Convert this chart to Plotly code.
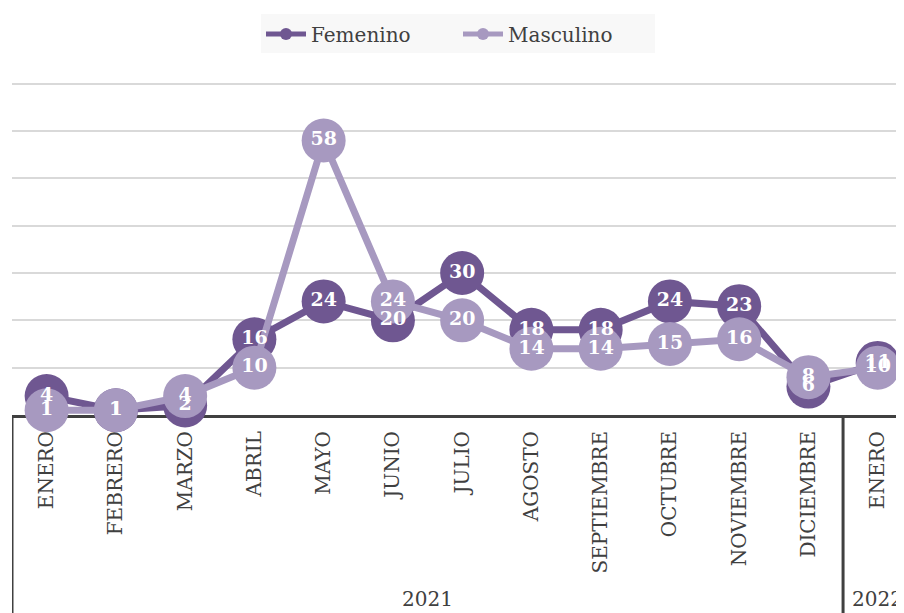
import plotly.graph_objects as go

months = ["ENERO", "FEBRERO", "MARZO", "ABRIL", "MAYO", "JUNIO", "JULIO",
          "AGOSTO", "SEPTIEMBRE", "OCTUBRE", "NOVIEMBRE", "DICIEMBRE", "ENERO"]
years = ["2021", "2022"]
year_pos = [5.5, 12]
femenino = [4, 1, 2, 16, 24, 20, 30, 18, 18, 24, 23, 6, 11]
masculino = [1, 1, 4, 10, 58, 24, 20, 14, 14, 15, 16, 8, 10]

x = list(range(len(months)))
FONT = "DejaVu Serif"
DARK = "#6f5791"
LIGHT = "#a799c0"
AXIS = "#404040"

fig = go.Figure()

# lines + markers first, labels on top afterwards (like Excel)
for name, vals, col in [("Femenino", femenino, DARK), ("Masculino", masculino, LIGHT)]:
    fig.add_trace(go.Scatter(
        x=x, y=vals, name=name, mode="lines+markers",
        line=dict(color=col, width=7),
        marker=dict(color=col, size=44),
        cliponaxis=False))

for vals in [femenino, masculino]:
    fig.add_trace(go.Scatter(
        x=x, y=vals, mode="text", text=[str(v) for v in vals],
        textposition="middle center",
        textfont=dict(family=FONT, size=19, color="white", weight="bold"),
        showlegend=False, hoverinfo="skip", cliponaxis=False))

# box lines of the two-level category axis
for xv in [-0.5, 11.5]:
    fig.add_shape(type="line", xref="x", yref="paper", x0=xv, x1=xv, y0=0, y1=-0.65,
                  line=dict(color=AXIS, width=3), layer="below")

for yr, xp in zip(years, year_pos):
    fig.add_annotation(x=xp, y=-0.548, xref="x", yref="paper", yanchor="middle",
                       text=yr, showarrow=False,
                       font=dict(family=FONT, size=20, color=AXIS))

# the page body adds 8px, so margins are offset by that
fig.update_layout(
    width=904, height=613,
    margin=dict(l=4, r=8, t=71, b=206, autoexpand=False),
    paper_bgcolor="white", plot_bgcolor="white",
    font=dict(family=FONT, color=AXIS),
    legend=dict(orientation="h", x=0.5, xanchor="center", y=1.134, yanchor="middle",
                bgcolor="#f8f8f8", font=dict(size=20, color=AXIS),
                itemsizing="constant", itemwidth=40,
                entrywidth=142, entrywidthmode="pixels"),
    showlegend=True,
)
fig.update_xaxes(
    range=[-0.5, 12.38], tickmode="array", tickvals=x, ticktext=months,
    tickangle=-90, tickfont=dict(family=FONT, size=20, color=AXIS),
    showgrid=False, showline=True, linecolor=AXIS, linewidth=3,
    ticks="", ticklabelstandoff=5, layer="below traces", zeroline=False,
    automargin=False)
fig.update_yaxes(
    range=[0, 71], dtick=10, showgrid=True, gridcolor="#d9d9d9", gridwidth=1.5,
    showticklabels=False, zeroline=False, showline=False, fixedrange=True,
    automargin=False)

fig.write_html("out.html")
